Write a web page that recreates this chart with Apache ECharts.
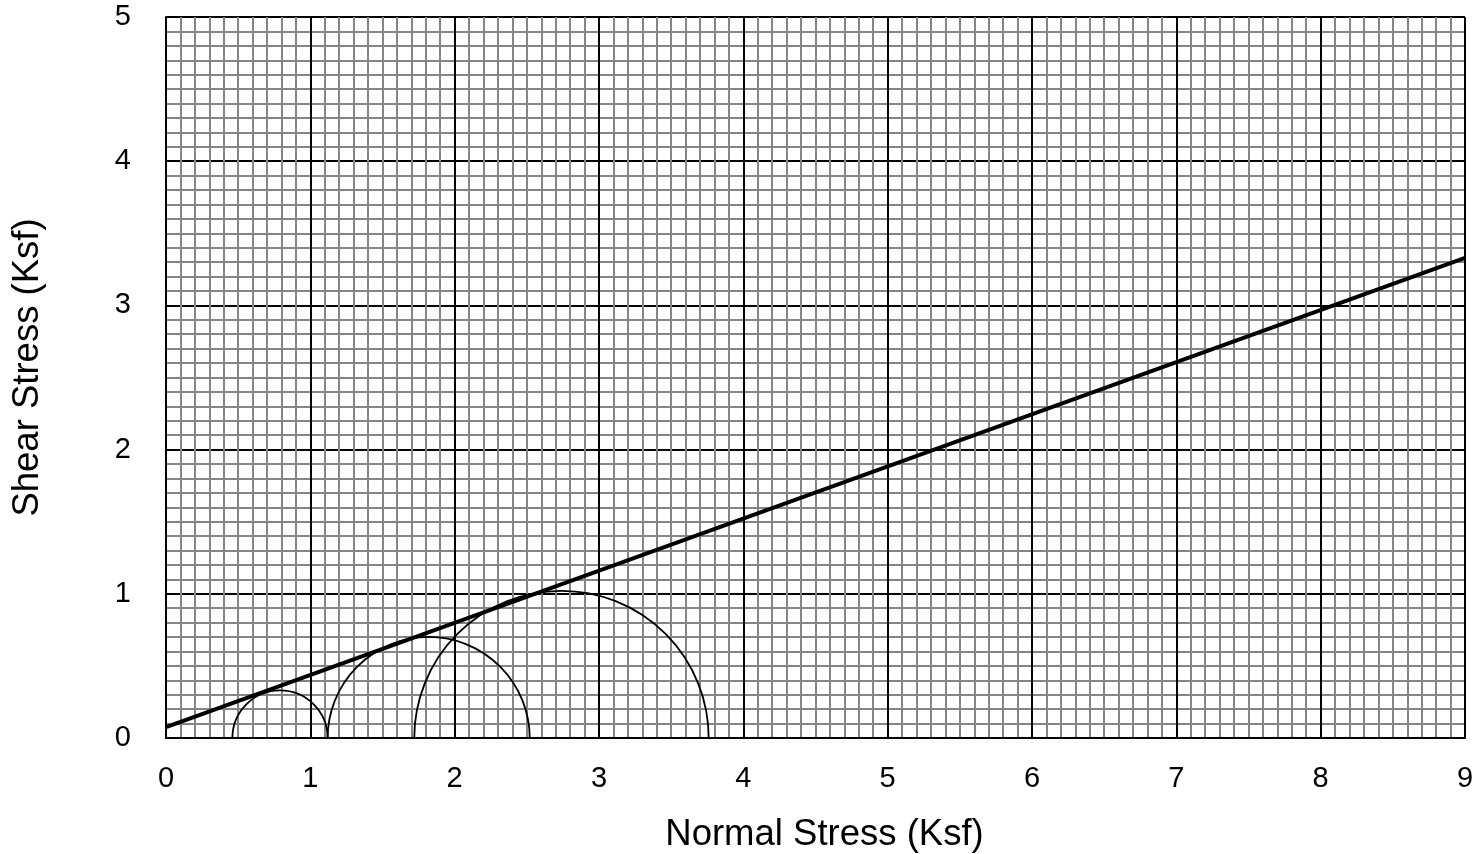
<!DOCTYPE html>
<html>
<head>
<meta charset="utf-8">
<script src="https://cdn.jsdelivr.net/npm/echarts@6/dist/echarts.min.js"></script>
<style>
html, body { margin: 0; padding: 0; background: #fff; }
#chart { width: 1479px; height: 854px; }
</style>
</head>
<body>
<div id="chart"></div>
<script>
// Mohr circles: [sigma3, sigma1] in Ksf
let circles = [
    [0.46, 1.12],
    [1.12, 2.52],
    [1.72, 3.76]
];
// failure envelope end points
let envelope_x = [0, 9];
let envelope_y = [0.076, 3.33];

let x_ticks = [0, 1, 2, 3, 4, 5, 6, 7, 8, 9];
let y_ticks = [0, 1, 2, 3, 4, 5];

MohrChart = echarts.init(document.getElementById('chart'));

let font = "'Liberation Sans', Arial, sans-serif";

mohr_chart = {
    animation: false,
    grid: {
        left: 166,
        right: 14,
        top: 17,
        bottom: 116,
        outerBoundsMode: 'none',
        containLabel: false
    },
    xAxis: {
        type: 'value',
        min: x_ticks[0],
        max: x_ticks[x_ticks.length - 1],
        interval: 1,
        name: 'Normal Stress (Ksf)',
        nameLocation: 'middle',
        nameGap: 78,
        nameTextStyle: { fontSize: 36.5, color: '#000', fontFamily: font, padding: [0, 0, 0, 18] },
        axisLine: { show: true, lineStyle: { color: '#000', width: 2 } },
        axisTick: { show: false },
        axisLabel: { fontSize: 29, color: '#000', margin: 26, fontFamily: font },
        splitLine: { show: true, lineStyle: { color: '#000', width: 2 } },
        minorTick: { show: false, splitNumber: 10 },
        minorSplitLine: { show: true, lineStyle: { color: '#858585', width: 2 } }
    },
    yAxis: {
        type: 'value',
        min: y_ticks[0],
        max: y_ticks[y_ticks.length - 1],
        interval: 1,
        name: 'Shear Stress (Ksf)',
        nameLocation: 'middle',
        nameGap: 120,
        nameTextStyle: { fontSize: 36.5, color: '#000', fontFamily: font, padding: [0, 0, 0, 20] },
        axisLine: { show: true, lineStyle: { color: '#000', width: 2 } },
        axisTick: { show: false },
        axisLabel: { fontSize: 29, color: '#000', margin: 35, fontFamily: font },
        splitLine: { show: true, lineStyle: { color: '#000', width: 2 } },
        minorTick: { show: false, splitNumber: 10 },
        minorSplitLine: { show: true, lineStyle: { color: '#858585', width: 2 } }
    },
    series: [
        {
            type: 'custom',
            data: circles,
            clip: true,
            renderItem: function (params, api) {
                let s3 = api.value(0);
                let s1 = api.value(1);
                let c = (s1 + s3) / 2;
                let r = (s1 - s3) / 2;
                let center = api.coord([c, 0]);
                let rpx = api.size([r, 0])[0];
                return {
                    type: 'arc',
                    shape: {
                        cx: center[0],
                        cy: center[1],
                        r: rpx,
                        startAngle: Math.PI,
                        endAngle: 2 * Math.PI,
                        clockwise: true
                    },
                    style: { fill: null, stroke: '#000', lineWidth: 1.8 }
                };
            }
        },
        {
            type: 'line',
            data: [[envelope_x[0], envelope_y[0]], [envelope_x[1], envelope_y[1]]],
            symbol: 'none',
            lineStyle: { color: '#000', width: 4 }
        }
    ]
};

MohrChart.setOption(mohr_chart);
</script>
</body>
</html>
